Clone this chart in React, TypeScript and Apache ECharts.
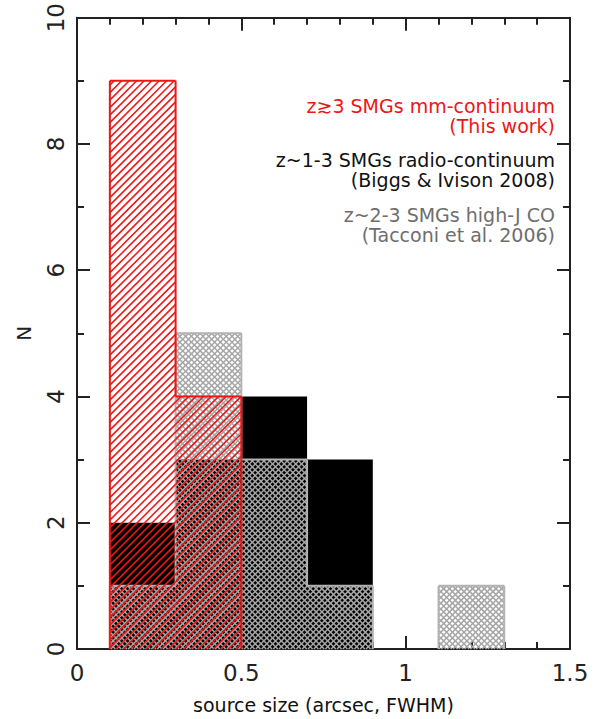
import React, { useEffect, useRef } from "react";
import * as echarts from "echarts";

// ---- data ----
const binStarts = [0.1, 0.3, 0.5, 0.7, 0.9, 1.1];
const binWidth = 0.2;
const thisWorkCounts = [9, 4, 0, 0, 0, 0];
const biggsCounts = [2, 3, 4, 3, 0, 0];
const tacconiCounts = [1, 5, 3, 1, 0, 1];
const xAxisName = "source size (arcsec, FWHM)";
const yAxisName = "N";
const legendThisWork = ["z\u22733 SMGs mm-continuum", "(This work)"];
const legendBiggs = ["z~1-3 SMGs radio-continuum", "(Biggs & Ivison 2008)"];
const legendTacconi = ["z~2-3 SMGs high-J CO", "(Tacconi et al. 2006)"];

const RED = "#f01414";
const GRAY_LINE = "#a6a6a6";
const GRAY_TEXT = "#6e6e6e";
const AXIS = "#222";
const AXIS_FONT = "DejaVu Sans";

function binData(counts: number[]) {
  return binStarts.map((s, i) => [
    s,
    s + binWidth,
    counts[i],
    i > 0 ? counts[i - 1] : 0,
    i < counts.length - 1 ? counts[i + 1] : 0,
  ]);
}

function hatch(
  x0: number, y0: number, x1: number, y1: number,
  step: number, dir: number, stroke: string, lw: number
) {
  const out: any[] = [];
  if (dir > 0) {
    const cMin = x0 + y0, cMax = x1 + y1;
    for (let c = Math.ceil(cMin / step) * step; c <= cMax; c += step) {
      const xa = Math.max(x0, c - y1), xb = Math.min(x1, c - y0);
      if (xb - xa > 0.3)
        out.push({ type: "line", shape: { x1: xa, y1: c - xa, x2: xb, y2: c - xb }, style: { stroke, lineWidth: lw } });
    }
  } else {
    const cMin = x0 - y1, cMax = x1 - y0;
    for (let c = Math.ceil(cMin / step) * step; c <= cMax; c += step) {
      const xa = Math.max(x0, c + y0), xb = Math.min(x1, c + y1);
      if (xb - xa > 0.3)
        out.push({ type: "line", shape: { x1: xa, y1: xa - c, x2: xb, y2: xb - c }, style: { stroke, lineWidth: lw } });
    }
  }
  return out;
}

function makeRender(kind: "solid" | "diag" | "cross") {
  return (_params: any, api: any) => {
    const s = api.value(0), e = api.value(1), n = api.value(2);
    const prev = api.value(3), next = api.value(4);
    if (!n) return undefined;
    const tl = api.coord([s, n]);
    const br = api.coord([e, 0]);
    const x0 = tl[0], y0 = tl[1], x1 = br[0], y1 = br[1];
    if (kind === "solid") {
      return {
        type: "rect",
        shape: { x: x0, y: y0, width: x1 - x0, height: y1 - y0 },
        style: { fill: "#000" },
      };
    }
    const children: any[] = [];
    let outline: string, olw: number;
    if (kind === "diag") {
      children.push(...hatch(x0, y0, x1, y1, 7.5, 1, RED, 1.5));
      outline = RED; olw = 2;
    } else {
      children.push(...hatch(x0, y0, x1, y1, 5.8, 1, GRAY_LINE, 1.5));
      children.push(...hatch(x0, y0, x1, y1, 5.8, -1, GRAY_LINE, 1.5));
      outline = "#b2b2b2"; olw = 2;
    }
    const yPrev = api.coord([s, prev])[1];
    const os = { stroke: outline, lineWidth: olw };
    children.push({ type: "line", shape: { x1: x0, y1: y0, x2: x1, y2: y0 }, style: os });
    children.push({ type: "line", shape: { x1: x0, y1: yPrev, x2: x0, y2: y0 }, style: os });
    if (!next) children.push({ type: "line", shape: { x1: x1, y1: y0, x2: x1, y2: y1 }, style: os });
    return { type: "group", children };
  };
}

function legendText(lines: string[], yTop: number, color: string) {
  return lines.map((t, i) => ({
    type: "text",
    x: 555,
    y: yTop + i * 20,
    style: {
      text: t,
      fill: color,
      font: '19px "DejaVu Sans"',
      align: "right",
      verticalAlign: "middle",
    },
    z: 10,
  }));
}

const axisLineStyle = { color: AXIS, width: 2 };

export default function App() {
  const ref = useRef<HTMLDivElement>(null);
  useEffect(() => {
    if (!ref.current) return;
    const chart = echarts.init(ref.current, undefined, { renderer: "svg" });
    const commonX = {
      type: "value" as const,
      min: 0,
      max: 1.5,
      interval: 0.5,
      axisLine: { show: true, onZero: false, lineStyle: axisLineStyle },
      axisTick: { show: true, inside: true, length: 13, lineStyle: axisLineStyle },
      minorTick: { show: true, splitNumber: 5, length: 7, lineStyle: { color: AXIS, width: 2 } },
      splitLine: { show: false },
      minorSplitLine: { show: false },
    };
    const commonY = {
      type: "value" as const,
      min: 0,
      max: 10,
      interval: 2,
      axisLine: { show: true, onZero: false, lineStyle: axisLineStyle },
      axisTick: { show: true, inside: true, length: 13, lineStyle: axisLineStyle },
      minorTick: { show: true, splitNumber: 2, length: 7, lineStyle: { color: AXIS, width: 2 } },
      splitLine: { show: false },
      minorSplitLine: { show: false },
    };
    chart.setOption({
      animation: false,
      backgroundColor: "#fff",
      grid: { left: 77, right: 43, top: 17, bottom: 67, containLabel: false },
      xAxis: [
        {
          ...commonX,
          position: "bottom",
          name: xAxisName,
          nameLocation: "middle",
          nameGap: 46,
          nameTextStyle: { fontFamily: AXIS_FONT, fontSize: 19, color: "#111" },
          axisLabel: {
            show: true,
            margin: 12,
            fontFamily: AXIS_FONT,
            fontSize: 23,
            color: "#222",
            formatter: (v: number) => String(v),
          },
        },
        { ...commonX, position: "top", axisLabel: { show: false } },
      ],
      yAxis: [
        {
          ...commonY,
          position: "left",
          name: yAxisName,
          nameLocation: "middle",
          nameRotate: 90,
          nameGap: 43,
          nameTextStyle: { fontFamily: AXIS_FONT, fontSize: 20, color: "#222" },
          axisLabel: {
            show: true,
            rotate: 90,
            margin: 10,
            fontFamily: AXIS_FONT,
            fontSize: 23,
            color: "#222",
          },
        },
        { ...commonY, position: "right", axisLabel: { show: false } },
      ],
      graphic: [
        ...legendText(legendThisWork, 106, RED),
        ...legendText(legendBiggs, 160, "#111"),
        ...legendText(legendTacconi, 215, GRAY_TEXT),
      ],
      series: [
        {
          type: "custom",
          name: "Biggs & Ivison 2008",
          xAxisIndex: 0,
          yAxisIndex: 0,
          renderItem: makeRender("solid"),
          data: binData(biggsCounts),
          encode: { x: [0, 1], y: 2 },
        },
        {
          type: "custom",
          name: "Tacconi et al. 2006",
          xAxisIndex: 0,
          yAxisIndex: 0,
          renderItem: makeRender("cross"),
          data: binData(tacconiCounts),
          encode: { x: [0, 1], y: 2 },
        },
        {
          type: "custom",
          name: "This work",
          xAxisIndex: 0,
          yAxisIndex: 0,
          renderItem: makeRender("diag"),
          data: binData(thisWorkCounts),
          encode: { x: [0, 1], y: 2 },
        },
      ],
    });
    return () => chart.dispose();
  }, []);
  return (
    <div
      ref={ref}
      style={{ position: "fixed", left: 0, top: 0, width: 613, height: 719, background: "#fff" }}
    />
  );
}
